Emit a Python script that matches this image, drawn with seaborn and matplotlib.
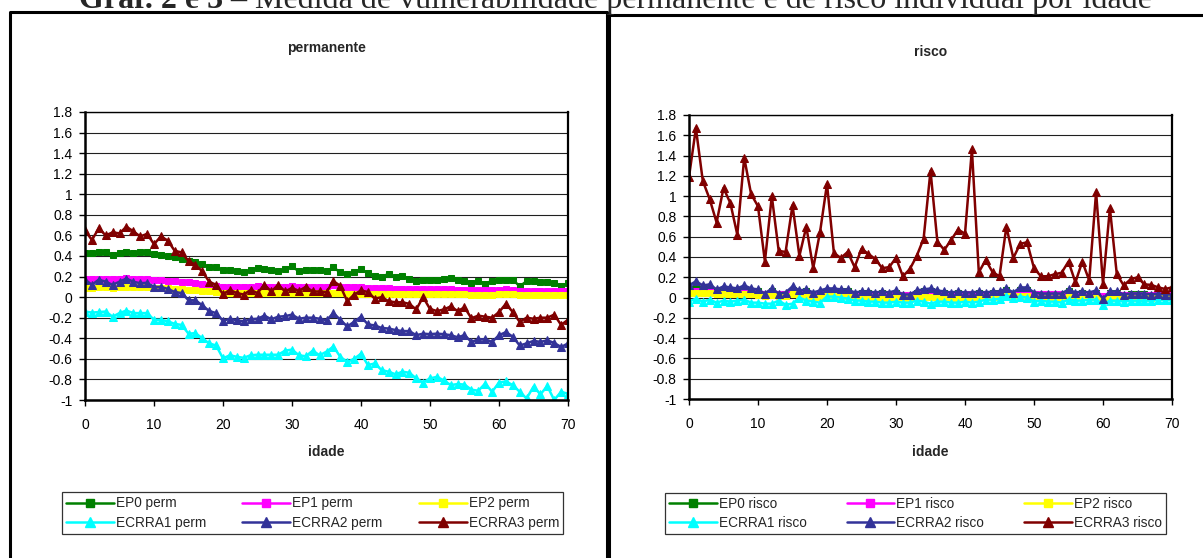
import numpy as np
import pandas as pd
import matplotlib
matplotlib.use("Agg")
import matplotlib.pyplot as plt
from matplotlib.lines import Line2D
from matplotlib.ticker import FuncFormatter, MultipleLocator
import seaborn as sns

idade = list(range(0, 71))

ep0_perm = [0.43,0.43,0.435,0.435,0.41,0.425,0.435,0.43,0.435,0.435,0.42,0.41,0.40,0.39,0.37,0.355,0.34,0.32,0.29,0.295,
            0.26,0.265,0.25,0.24,0.26,0.285,0.275,0.265,0.25,0.275,0.30,0.25,0.265,0.265,0.26,0.25,0.29,0.24,0.225,0.24,
            0.275,0.23,0.21,0.20,0.225,0.195,0.205,0.18,0.16,0.17,0.17,0.17,0.18,0.185,0.17,0.16,0.14,0.16,0.13,0.16,
            0.17,0.17,0.17,0.105,0.155,0.155,0.15,0.145,0.14,0.11,0.135]
ep1_perm = [0.18,0.18,0.18,0.18,0.18,0.18,0.185,0.18,0.18,0.175,0.17,0.165,0.16,0.155,0.15,0.145,0.14,0.13,0.12,0.11,
            0.10,0.10,0.10,0.10,0.10,0.105,0.10,0.10,0.10,0.10,0.105,0.10,0.10,0.10,0.10,0.10,0.115,0.10,0.095,0.095,
            0.095,0.09,0.09,0.085,0.085,0.08,0.08,0.08,0.075,0.075,0.075,0.075,0.075,0.075,0.07,0.07,0.065,0.065,0.065,0.065,
            0.07,0.075,0.07,0.06,0.06,0.06,0.06,0.06,0.06,0.06,0.06]
ep2_perm = [0.09,0.09,0.095,0.095,0.09,0.095,0.10,0.095,0.095,0.095,0.09,0.09,0.085,0.08,0.075,0.07,0.065,0.06,0.055,0.05,
            0.045,0.045,0.045,0.04,0.045,0.045,0.04,0.045,0.04,0.04,0.045,0.04,0.04,0.04,0.04,0.04,0.045,0.04,0.035,0.035,
            0.035,0.035,0.035,0.03,0.03,0.03,0.03,0.03,0.03,0.03,0.03,0.03,0.03,0.03,0.03,0.03,0.025,0.025,0.025,0.025,
            0.03,0.035,0.03,0.02,0.02,0.02,0.02,0.02,0.02,0.02,0.02]
ecrra1_perm = [-0.14,-0.15,-0.145,-0.14,-0.19,-0.155,-0.13,-0.155,-0.155,-0.155,-0.22,-0.22,-0.235,-0.26,-0.27,-0.355,-0.35,-0.40,-0.45,-0.47,
               -0.595,-0.565,-0.58,-0.59,-0.565,-0.56,-0.56,-0.56,-0.56,-0.52,-0.51,-0.565,-0.575,-0.52,-0.565,-0.53,-0.48,-0.58,-0.63,-0.60,
               -0.55,-0.66,-0.645,-0.71,-0.725,-0.75,-0.725,-0.735,-0.79,-0.83,-0.79,-0.775,-0.81,-0.855,-0.845,-0.85,-0.90,-0.91,-0.84,-0.92,
               -0.83,-0.82,-0.855,-0.92,-0.985,-0.87,-0.945,-0.865,-1.0,-0.92,-0.94]
ecrra2_perm = [0.17,0.12,0.17,0.15,0.12,0.15,0.18,0.15,0.135,0.14,0.10,0.10,0.08,0.05,0.04,-0.03,-0.03,-0.08,-0.135,-0.155,
               -0.23,-0.21,-0.225,-0.235,-0.215,-0.21,-0.18,-0.215,-0.19,-0.185,-0.17,-0.21,-0.20,-0.20,-0.21,-0.225,-0.155,-0.22,-0.285,-0.24,
               -0.19,-0.265,-0.275,-0.30,-0.305,-0.32,-0.33,-0.33,-0.37,-0.355,-0.36,-0.355,-0.36,-0.37,-0.39,-0.37,-0.435,-0.41,-0.41,-0.435,
               -0.37,-0.34,-0.385,-0.47,-0.45,-0.425,-0.435,-0.42,-0.445,-0.485,-0.45]
ecrra3_perm = [0.65,0.555,0.67,0.60,0.63,0.62,0.685,0.64,0.59,0.615,0.515,0.59,0.55,0.45,0.435,0.35,0.315,0.25,0.15,0.12,
               0.03,0.07,0.04,0.025,0.07,0.04,0.12,0.055,0.12,0.055,0.09,0.06,0.10,0.055,0.055,0.05,0.155,0.11,-0.04,0.025,
               0.065,0.05,-0.015,0.0,-0.04,-0.05,-0.05,-0.065,-0.12,0.0,-0.115,-0.135,-0.12,-0.09,-0.135,-0.10,-0.205,-0.18,-0.19,-0.20,
               -0.145,-0.065,-0.145,-0.24,-0.20,-0.21,-0.20,-0.20,-0.17,-0.27,-0.22]

ep0_risco = [0.08,0.09,0.08,0.08,0.06,0.07,0.07,0.06,0.08,0.06,0.06,0.04,0.06,0.04,0.04,0.07,0.05,0.06,0.04,0.05,
             0.06,0.06,0.06,0.06,0.04,0.05,0.05,0.04,0.05,0.04,0.05,0.03,0.03,0.05,0.06,0.06,0.05,0.05,0.04,0.05,
             0.04,0.04,0.05,0.04,0.05,0.05,0.07,0.04,0.07,0.07,0.04,0.04,0.04,0.04,0.04,0.06,0.04,0.05,0.04,0.05,
             0.01,0.05,0.05,0.03,0.04,0.04,0.04,0.03,0.04,0.03,0.03]
ep1_risco = [0.06,0.06,0.06,0.06,0.05,0.05,0.05,0.05,0.05,0.05,0.05,0.04,0.04,0.04,0.04,0.04,0.04,0.04,0.04,0.04,
             0.04,0.04,0.04,0.04,0.04,0.04,0.04,0.04,0.04,0.04,0.04,0.03,0.03,0.04,0.04,0.04,0.04,0.04,0.04,0.04,
             0.04,0.04,0.04,0.04,0.04,0.04,0.05,0.04,0.05,0.05,0.04,0.04,0.04,0.04,0.04,0.04,0.04,0.04,0.04,0.04,
             0.02,0.04,0.04,0.03,0.03,0.03,0.03,0.03,0.03,0.03,0.03]
ep2_risco = [0.05,0.05,0.05,0.05,0.04,0.04,0.04,0.04,0.04,0.04,0.03,0.02,0.03,0.02,0.02,0.04,0.02,0.02,0.01,0.01,
             0.02,0.02,0.02,0.02,0.01,0.01,0.01,0.01,0.00,0.00,0.01,0.00,0.00,0.01,0.01,0.01,0.01,0.01,0.00,0.00,
             0.00,0.00,0.01,0.01,0.01,0.01,0.03,0.02,0.02,0.02,0.00,0.00,0.00,0.00,0.00,0.01,0.00,0.01,0.01,0.01,
             -0.02,0.00,0.00,0.00,0.00,0.00,0.00,0.00,0.01,0.01,0.01]
ecrra1_risco = [-0.04,-0.01,-0.04,-0.02,-0.05,-0.03,-0.04,-0.03,-0.02,-0.05,-0.05,-0.06,-0.06,-0.03,-0.07,-0.06,0.0,-0.03,-0.04,-0.05,
                0.01,0.01,0.0,-0.01,-0.03,-0.03,-0.04,-0.04,-0.05,-0.05,-0.04,-0.05,-0.05,-0.03,-0.04,-0.06,-0.04,-0.04,-0.05,-0.05,
                -0.04,-0.05,-0.04,-0.02,-0.02,-0.01,0.02,0.0,0.01,0.0,-0.04,-0.03,-0.04,-0.04,-0.05,-0.02,-0.03,-0.03,-0.02,-0.02,
                -0.07,-0.03,-0.03,-0.04,-0.03,-0.03,-0.03,-0.03,-0.02,-0.02,-0.02]
ecrra2_risco = [0.12,0.16,0.12,0.13,0.08,0.11,0.10,0.09,0.12,0.09,0.08,0.04,0.09,0.04,0.05,0.11,0.07,0.08,0.05,0.07,
                0.09,0.09,0.08,0.08,0.05,0.06,0.06,0.05,0.06,0.05,0.07,0.03,0.03,0.07,0.08,0.09,0.07,0.06,0.05,0.06,
                0.05,0.05,0.06,0.05,0.06,0.06,0.09,0.05,0.10,0.10,0.05,0.04,0.04,0.04,0.04,0.08,0.05,0.06,0.05,0.07,
                -0.01,0.06,0.06,0.03,0.04,0.04,0.04,0.03,0.04,0.03,0.03]
ecrra3_risco = [1.19,1.67,1.15,0.97,0.74,1.08,0.93,0.62,1.38,1.02,0.90,0.355,1.00,0.46,0.45,0.91,0.41,0.70,0.29,0.65,
                1.12,0.44,0.39,0.45,0.30,0.48,0.43,0.38,0.29,0.30,0.39,0.21,0.28,0.41,0.58,1.25,0.55,0.47,0.57,0.67,
                0.63,1.46,0.25,0.37,0.25,0.21,0.70,0.39,0.53,0.545,0.29,0.21,0.21,0.23,0.245,0.355,0.15,0.355,0.17,1.04,
                0.135,0.88,0.23,0.12,0.18,0.20,0.13,0.125,0.10,0.085,0.10]

series_names = ["EP0", "EP1", "EP2", "ECRRA1", "ECRRA2", "ECRRA3"]
colors = ["#008000", "#FF00FF", "#FFFF00", "#00FFFF", "#333399", "#800000"]
markers = ["s", "s", "s", "^", "^", "^"]

perm_values = [ep0_perm, ep1_perm, ep2_perm, ecrra1_perm, ecrra2_perm, ecrra3_perm]
risco_values = [ep0_risco, ep1_risco, ep2_risco, ecrra1_risco, ecrra2_risco, ecrra3_risco]

sns.set_style("white")
plt.rcParams["font.family"] = ["Liberation Sans", "DejaVu Sans"]
plt.rcParams["axes.unicode_minus"] = False

W, H = 1203, 558
fig = plt.figure(figsize=(W / 100, H / 100), dpi=100)


def fx(px):
    return px / W


def fy(py):
    return 1 - py / H


def make_panel(rect, values, suffix, title, title_y, legend_rect):
    x0, y0, x1, y1 = rect
    ax = fig.add_axes([fx(x0), fy(y1), fx(x1 - x0), (y1 - y0) / H])
    handles = []
    for name, vals, c, m in zip(series_names, values, colors, markers):
        df = pd.DataFrame({"idade": idade, "v": vals})
        ms = 5 if m == "s" else 6
        sns.lineplot(data=df, x="idade", y="v", ax=ax, color=c, marker=m,
                     markersize=ms, markeredgecolor=c, markerfacecolor=c,
                     linewidth=1.8, label=f"{name} {suffix}", legend=False)
        handles.append(Line2D([0], [0], color=c, marker=m, markersize=ms + 0.5,
                              markeredgecolor=c, linewidth=1.8,
                              label=f"{name} {suffix}"))
    ax.set_xlim(0, 70)
    ax.set_ylim(-1, 1.8)
    ax.xaxis.set_major_locator(MultipleLocator(10))
    ax.yaxis.set_major_locator(MultipleLocator(0.2))
    ax.yaxis.set_major_formatter(FuncFormatter(lambda v, p: f"{round(v, 1):g}"))
    ax.grid(axis="y", color="#202020", linewidth=0.8)
    ax.set_axisbelow(True)
    for s in ax.spines.values():
        s.set_color("black")
        s.set_linewidth(1.0)
    ax.spines["left"].set_linewidth(1.8)
    ax.spines["bottom"].set_linewidth(1.8)
    ax.spines["right"].set_linewidth(1.6)
    ax.tick_params(axis="both", direction="out", length=4, width=1, colors="black",
                   labelsize=10, bottom=True, left=True)
    ax.tick_params(axis="x", pad=9)
    ax.tick_params(axis="y", pad=5)
    ax.set_xlabel("")
    ax.set_ylabel("")
    fig.text(fx((x0 + x1) / 2), fy(title_y), title, ha="center", va="center",
             fontsize=10, fontweight="bold")
    fig.text(fx((x0 + x1) / 2), fy(452), "idade", ha="center", va="center",
             fontsize=10, fontweight="bold")
    lx0, ly0, lx1, ly1 = legend_rect
    order = [0, 3, 1, 4, 2, 5]
    leg = fig.legend([handles[i] for i in order], [handles[i].get_label() for i in order],
                     ncol=3, loc="center", mode="expand",
                     bbox_to_anchor=(fx(lx0), fy(ly1), fx(lx1 - lx0), (ly1 - ly0) / H),
                     fontsize=9.8, frameon=True, fancybox=False, shadow=False,
                     edgecolor="black", handlelength=3.5, handletextpad=0.15,
                     borderaxespad=0, borderpad=0.3, labelspacing=0.4,
                     columnspacing=0.3)
    leg.get_frame().set_linewidth(0.9)
    return ax


make_panel((85, 112, 568, 400), perm_values, "perm", "permanente", 48, (62, 485, 563, 541))
make_panel((689, 115, 1172, 399), risco_values, "risco", "risco", 52, (665, 485, 1166, 542))

# outer frames of both chart objects
frame_kw = dict(color="black", linewidth=2.2, transform=fig.transFigure, solid_capstyle="projecting")
fig.add_artist(Line2D([fx(10), fx(10), fx(607), fx(607)], [fy(560), fy(12), fy(12), fy(560)], **frame_kw))
fig.add_artist(Line2D([fx(607), fx(1205)], [fy(15), fy(15)], **frame_kw))
fig.add_artist(Line2D([fx(609), fx(609)], [fy(15), fy(560)], **frame_kw))

# heading (clipped at the top, as on the original page)
serif = ["Liberation Serif", "DejaVu Serif"]
t1 = fig.text(fx(79), fy(8), "Graf. 2 e 3", ha="left", va="baseline",
              fontsize=23, fontweight="bold", family=serif)
fig.canvas.draw()
bb = t1.get_window_extent()
fig.text(bb.x1 / W, fy(8), " \u2013 Medida de vulnerabilidade permanente e de risco individual por idade",
         ha="left", va="baseline", fontsize=23, family=serif)

fig.savefig("out.png", dpi=100)
